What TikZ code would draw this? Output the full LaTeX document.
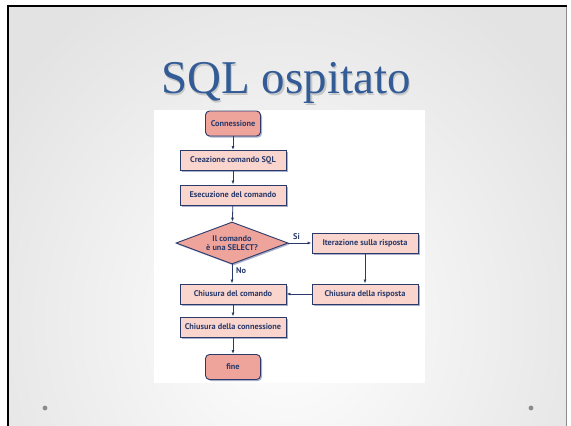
\documentclass[tikz,border=0pt]{standalone}
\usepackage{fontspec}
\setmainfont{Liberation Serif}
\newfontfamily\flowfont{PT Sans}
\usetikzlibrary{shapes.geometric,arrows.meta,shadows}
\definecolor{navy}{HTML}{2A3B6B}
\definecolor{salmon}{HTML}{EEA39B}
\definecolor{pinklight}{HTML}{F9D5CD}
\definecolor{shadowblue}{HTML}{A9B0CC}
\definecolor{titleblue}{HTML}{335C96}
\definecolor{dotgray}{HTML}{8C8C8C}
\tikzset{
  flowbase/.style={draw=navy, line width=0.9pt, text=navy,
    font=\flowfont\bfseries\fontsize{8.3}{9}\selectfont, align=center, inner sep=1pt,
    drop shadow={shadow xshift=1.5pt, shadow yshift=-1.5pt, fill=shadowblue, opacity=1}},
  stepbox/.style={flowbase, fill=pinklight, minimum width=106pt, minimum height=20pt},
  termbox/.style={flowbase, fill=salmon, rounded corners=4pt, minimum width=55pt, minimum height=25pt},
  decbox/.style={flowbase, fill=salmon, diamond, aspect=2.67, minimum width=112pt, minimum height=42pt, inner sep=0pt},
  conn/.style={draw=navy, line width=0.8pt, -{Latex[length=4pt,width=3pt]}},
  lbl/.style={text=navy, font=\flowfont\bfseries\fontsize{8.3}{9}\selectfont, inner sep=0pt}
}
\begin{document}
\begin{tikzpicture}[x=1pt,y=-1pt]
\useasboundingbox (0,0) rectangle (571,426);
\fill[white] (0,0) rectangle (571,426);
\begin{scope}
\clip (8,6) rectangle (566,426);
\shade[inner color=white, outer color=black!11] (-60,-60) rectangle (630,700);
\end{scope}
\draw[black!45, line width=0.8pt] (566,6) -- (566,426);
\draw[black, line width=2.6pt] (8,426) -- (8,6) -- (566.5,6);
% diagram white panel
\fill[white] (154,110) rectangle (425,383);
% title
\node[text=black!22, font=\fontsize{47}{50}\selectfont] at (287.5,84.5) {SQL ospitato};
\node[text=titleblue, font=\fontsize{47}{50}\selectfont] (title) at (286,83) {SQL ospitato};
% dots
\fill[dotgray] (45,408) circle (2.4);
\fill[dotgray] (531,408) circle (2.4);
% flowchart
\node[termbox] (conn) at (233,123.5) {Connessione};
\node[stepbox] (crea) at (233,160.5) {Creazione comando SQL};
\node[stepbox] (esec) at (233,195) {Esecuzione del comando};
\node[decbox] (dec) at (232,243) {Il comando\\è una SELECT?};
\node[stepbox] (iter) at (365,243) {Iterazione sulla risposta};
\node[stepbox] (chcom) at (233,294) {Chiusura del comando};
\node[stepbox] (chris) at (365,294) {Chiusura della risposta};
\node[stepbox] (chconn) at (233,327) {Chiusura della connessione};
\node[termbox] (fine) at (233,367) {fine};
\draw[conn] (conn) -- (crea);
\draw[conn] (crea) -- (esec);
\draw[conn] (esec) -- (dec);
\draw[conn] (dec.east) -- (iter.west);
\draw[conn] (iter) -- (chris);
\draw[conn] (chris) -- (chcom);
\draw[conn] (dec.south) -- (chcom.north -| dec.south);
\draw[conn] (chcom) -- (chconn);
\draw[conn] (chconn) -- (fine);
\node[lbl, anchor=south west] (si) at (293,240) {Si};
\node[lbl, anchor=west] (no) at (236,271) {No};
\end{tikzpicture}
\end{document}
